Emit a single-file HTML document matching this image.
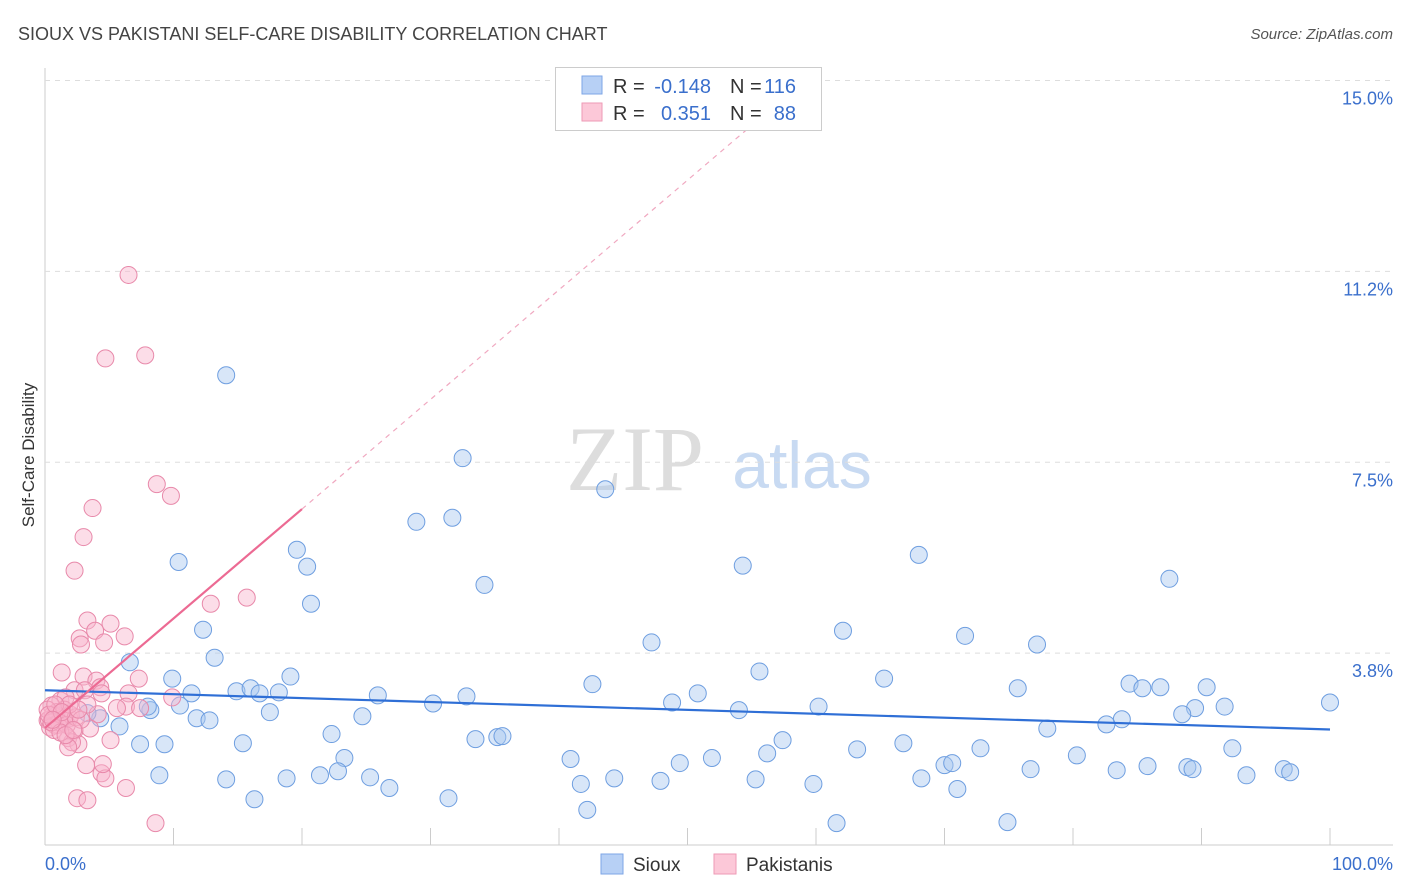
<!DOCTYPE html>
<html><head><meta charset="utf-8"><style>
body{margin:0;background:#fff;font-family:"Liberation Sans",sans-serif;}
#wrap{position:relative;width:1406px;height:892px;overflow:hidden;}
</style></head><body>
<div id="wrap">
<svg id="svg" width="1406" height="892" xmlns="http://www.w3.org/2000/svg">
<text x="18" y="40" font-size="18" fill="#444">SIOUX VS PAKISTANI SELF-CARE DISABILITY CORRELATION CHART</text>
<text x="1393" y="39" font-size="15" font-style="italic" fill="#555" text-anchor="end">Source: ZipAtlas.com</text>
<text transform="translate(34,455) rotate(-90)" font-size="17" fill="#333" text-anchor="middle">Self-Care Disability</text>
<g><text x="635" y="490" font-size="92" font-family="Liberation Serif,serif" fill="#ddd" text-anchor="middle">ZIP</text><text x="802" y="488" font-size="66" fill="#c8daf2" text-anchor="middle">atlas</text></g>
<g id="grid"></g><g id="marks"></g><g id="lines"></g>
<g>
<rect x="555.5" y="67.5" width="266" height="63" fill="#fff" stroke="#ccc"/>
<rect x="582" y="76" width="20" height="18" fill="#b7d0f5" stroke="#7ea6e6"/>
<rect x="582" y="103" width="20" height="18" fill="#fcc8d8" stroke="#ee9ab6"/>
<text x="613" y="93" font-size="20" fill="#333">R =</text>
<text x="711" y="93" font-size="20" fill="#3a6fcc" text-anchor="end">-0.148</text>
<text x="730" y="93" font-size="20" fill="#333">N =</text>
<text x="796" y="93" font-size="20" fill="#3a6fcc" text-anchor="end">116</text>
<text x="613" y="120" font-size="20" fill="#333">R =</text>
<text x="711" y="120" font-size="20" fill="#3a6fcc" text-anchor="end">0.351</text>
<text x="730" y="120" font-size="20" fill="#333">N =</text>
<text x="796" y="120" font-size="20" fill="#3a6fcc" text-anchor="end">88</text>
</g>
<g>
<rect x="601" y="854" width="22" height="20" fill="#b7d0f5" stroke="#7ea6e6"/>
<text x="633" y="871" font-size="19" fill="#333">Sioux</text>
<rect x="714" y="854" width="22" height="20" fill="#fcc8d8" stroke="#ee9ab6"/>
<text x="746" y="871" font-size="19" fill="#333">Pakistanis</text>
</g>
<text x="45" y="870" font-size="18" fill="#3a6fcc">0.0%</text>
<text x="1393" y="870" font-size="18" fill="#3a6fcc" text-anchor="end">100.0%</text>
</svg>
</div>
<script>
const yTicks=[3.75,7.5,11.25,15];
const yTickLabels=["3.8%","7.5%","11.2%","15.0%"];
const xTicks=[0,10,20,30,40,50,60,70,80,90,100];
const sioux=[[14.1,9.21],[32.5,7.58],[43.6,6.97],[28.9,6.33],[31.7,6.41],[19.6,5.78],[20.4,5.45],[10.4,5.54],[34.2,5.09],[20.7,4.72],[54.3,5.47],[68.0,5.68],[87.5,5.21],[12.3,4.21],[62.1,4.19],[71.6,4.09],[77.2,3.92],[47.2,3.96],[13.2,3.66],[6.6,3.57],[55.6,3.39],[65.3,3.25],[19.1,3.29],[9.9,3.25],[75.7,3.06],[84.4,3.15],[85.4,3.06],[86.8,3.08],[90.4,3.08],[42.6,3.14],[11.4,2.96],[14.9,3.0],[16.0,3.06],[16.7,2.96],[18.2,2.98],[25.9,2.92],[32.8,2.9],[50.8,2.96],[30.2,2.76],[48.8,2.78],[100,2.78],[91.8,2.7],[89.5,2.67],[60.2,2.7],[54.0,2.63],[88.5,2.55],[10.5,2.72],[8.2,2.63],[17.5,2.59],[8.0,2.7],[11.8,2.47],[12.8,2.43],[24.7,2.51],[83.8,2.45],[82.6,2.35],[4.3,2.47],[3.3,2.57],[5.8,2.31],[78.0,2.27],[22.3,2.16],[33.5,2.06],[35.2,2.1],[35.6,2.12],[57.4,2.04],[15.4,1.98],[7.4,1.96],[9.3,1.96],[66.8,1.98],[72.8,1.88],[63.2,1.86],[92.4,1.88],[56.2,1.78],[80.3,1.74],[23.3,1.69],[40.9,1.67],[51.9,1.69],[49.4,1.59],[70.0,1.55],[70.6,1.59],[85.8,1.53],[76.7,1.47],[88.9,1.51],[89.3,1.47],[83.4,1.45],[96.4,1.47],[96.9,1.41],[93.5,1.35],[8.9,1.35],[14.1,1.27],[18.8,1.29],[21.4,1.35],[22.8,1.43],[25.3,1.31],[44.3,1.29],[47.9,1.24],[55.3,1.27],[68.2,1.29],[26.8,1.1],[41.7,1.18],[59.8,1.18],[71.0,1.08],[16.3,0.88],[31.4,0.9],[42.2,0.67],[61.6,0.41],[74.9,0.43]];
const pakistanis=[[6.5,11.18],[4.7,9.54],[7.8,9.6],[8.7,7.07],[9.8,6.84],[3.7,6.6],[3.0,6.03],[2.3,5.37],[15.7,4.84],[12.9,4.72],[3.3,4.39],[5.1,4.33],[3.9,4.19],[6.2,4.08],[2.7,4.04],[2.8,3.92],[4.6,3.96],[1.3,3.37],[3.0,3.29],[4.0,3.21],[7.3,3.25],[2.3,3.02],[4.3,3.08],[4.4,2.96],[3.1,3.02],[6.5,2.96],[9.9,2.88],[1.2,2.82],[1.6,2.88],[6.3,2.7],[5.6,2.67],[4.1,2.55],[7.4,2.67],[0.5,2.72],[0.9,2.53],[1.9,2.47],[0.2,2.43],[0.8,2.33],[1.3,2.37],[2.3,2.23],[3.5,2.27],[1.8,2.08],[2.6,1.96],[2.1,2.0],[1.8,1.9],[5.1,2.04],[3.2,1.55],[4.4,1.39],[4.7,1.29],[4.5,1.57],[6.3,1.1],[2.5,0.9],[3.3,0.86],[8.6,0.41],[0.3,2.44],[0.6,2.54],[1.0,2.34],[1.4,2.49],[0.4,2.29],[0.9,2.59],[1.5,2.64],[2.0,2.54],[0.2,2.64],[1.1,2.39],[0.7,2.24],[1.7,2.34],[2.4,2.49],[2.8,2.44],[0.5,2.39],[1.2,2.19],[3.3,2.74],[0.3,2.54],[1.9,2.74],[0.8,2.74],[2.6,2.64],[1.3,2.59],[0.6,2.44],[1.6,2.14],[2.2,2.24]];
const siouxTrend=[[0,3.02],[100,2.25]];
const pakTrendSolid=[[0,2.28],[20,6.58]];
const pakTrendDashed=[[20,6.58],[57,14.55]];

const NS="http://www.w3.org/2000/svg";
const X=v=>45+v*12.85;
const Y=v=>844-v*50.9;
function mk(tag,attrs,parent){const e=document.createElementNS(NS,tag);for(const k in attrs)e.setAttribute(k,attrs[k]);parent.appendChild(e);return e;}
const grid=document.getElementById('grid'),marks=document.getElementById('marks'),lines=document.getElementById('lines');
let ax=mk('line',{x1:45,x2:45,y1:68,y2:845,stroke:'#ccc'},grid);


let bx=mk('line',{x1:45,x2:1393,y1:845,y2:845,stroke:'#ccc'},grid);


yTicks.forEach((t,i)=>{
  const g=mk('line',{x1:45,x2:1393,y1:Y(t),y2:Y(t),stroke:'#ddd','stroke-dasharray':'5,5'},grid);
  
  
  const tx=mk('text',{x:1393,y:Y(t)+24,'font-size':18,fill:'#3a6fcc','text-anchor':'end'},grid);
  tx.textContent=yTickLabels[i];
  
  
});
xTicks.forEach(t=>{
  const l=mk('line',{x1:X(t),x2:X(t),y1:828,y2:845,stroke:'#ccc'},grid);
  
  
});
function dots(arr,fill,stroke,name){arr.forEach(p=>{
  const c=mk('circle',{cx:X(p[0]),cy:Y(p[1]),r:8.5,fill:fill,'fill-opacity':0.45,stroke:stroke,'stroke-width':1},marks);
  
  
});}
dots(sioux,'#a9c7f0','#6e9ee0','sioux-point');
dots(pakistanis,'#f8b4cb','#e889aa','pakistani-point');
function ln(a,stroke,w,dash,name){
  const l=mk('line',{x1:X(a[0][0]),y1:Y(a[0][1]),x2:X(a[1][0]),y2:Y(a[1][1]),stroke:stroke,'stroke-width':w},lines);
  if(dash)l.setAttribute('stroke-dasharray',dash);
  
  
}
ln(siouxTrend,'#2f6fd6',2.2,null,'sioux-trend-line');
ln(pakTrendSolid,'#ec6a93',2.2,null,'pakistani-trend-line');
ln(pakTrendDashed,'#f0a8c0',1.2,'5,5','pakistani-trend-extension');
</script>
</body></html>
